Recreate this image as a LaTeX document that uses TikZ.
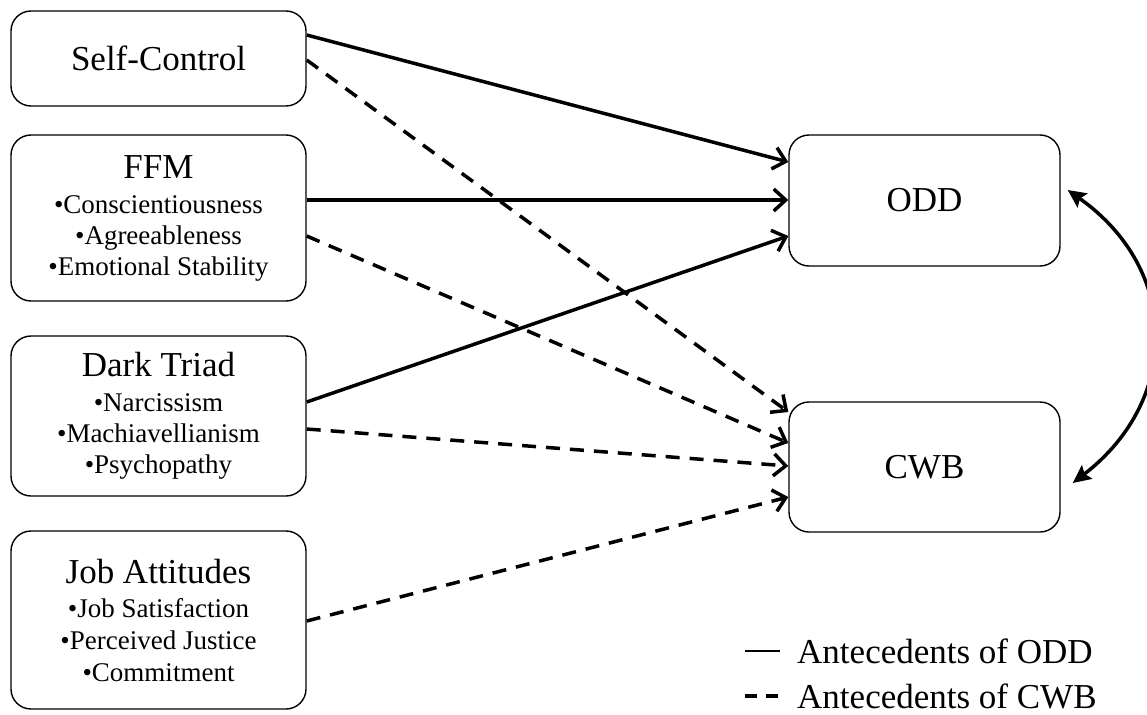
\documentclass[tikz,border=0pt]{standalone}
\usepackage{fontspec}
\setmainfont{Liberation Serif}
\usetikzlibrary{arrows.meta}
\newcommand\titlefnt{\fontsize{35}{40}\selectfont}
\newcommand\itemfnt{\fontsize{27}{31}\selectfont}
\begin{document}
\begin{tikzpicture}[x=1pt,y=-1pt,
  box/.style={draw, line width=1.4pt, rounded corners=20pt, align=center, inner sep=0pt, font=\itemfnt},
  lbox/.style={box, minimum width=295pt},
  rbox/.style={box, minimum width=271pt, font=\titlefnt},
  sol/.style={line width=3.5pt, -{Straight Barb[length=12pt,width=22pt]}},
  dsh/.style={sol, dash pattern=on 14pt off 10pt},
  dbl/.style={line width=3.5pt, {Stealth[length=18pt,width=17pt,inset=3pt]}-{Stealth[length=18pt,width=17pt,inset=3pt]}},
  legtext/.style={anchor=base west, inner sep=0pt, font=\titlefnt}
]
\useasboundingbox (0,0) rectangle (1147,714);

\node[lbox, minimum height=95pt, font=\titlefnt] (sc) at (158.5,58.5) {Self-Control};
\node[lbox, minimum height=166pt] (ffm) at (158.5,218) {{\titlefnt FFM}\\[4pt] •Conscientiousness\\ •Agreeableness\\ •Emotional Stability};
\node[lbox, minimum height=160pt] (dt) at (158.5,416) {{\titlefnt Dark Triad}\\[4pt] •Narcissism\\ •Machiavellianism\\ •Psychopathy};
\node[lbox, minimum height=178pt] (ja) at (158.5,620) {{\titlefnt Job Attitudes}\\[3pt] •Job Satisfaction\\[1pt] •Perceived Justice\\[1pt] •Commitment};

\node[rbox, minimum height=131pt] (odd) at (924.5,200.5) {ODD};
\node[rbox, minimum height=130pt] (cwb) at (924.5,467) {CWB};

\draw[sol] ([yshift=23.5pt]sc.east) -- ([yshift=38.5pt]odd.west);
\draw[dsh] ([yshift=-1.5pt]sc.east) -- ([yshift=55pt]cwb.west);
\draw[sol] ([yshift=18pt]ffm.east) -- ([yshift=18pt]ffm.east -| odd.west);
\draw[dsh] ([yshift=-18pt]ffm.east) -- ([yshift=24pt]cwb.west);
\draw[sol] ([yshift=14pt]dt.east) -- ([yshift=-35.5pt]odd.west);
\draw[dsh] ([yshift=-13pt]dt.east) -- ([yshift=1pt]cwb.west);
\draw[dsh] ([yshift=-1pt]ja.east) -- ([yshift=-30pt]cwb.west);

\draw[dbl] ([shift={(7pt,10.5pt)}]odd.east) .. controls +(113,80) and +(108,-83) .. ([shift={(12pt,-16pt)}]cwb.east);

\node[legtext] (leg1) at (797,663) {Antecedents of ODD};
\node[legtext] (leg2) at (797,708) {Antecedents of CWB};
\draw[line width=2pt] ([xshift=-52pt]leg1.west) -- ([xshift=-17pt]leg1.west);
\draw[line width=3.5pt, dash pattern=on 12pt off 9pt] ([xshift=-52pt]leg2.west) -- ([xshift=-19pt]leg2.west);
\end{tikzpicture}
\end{document}
